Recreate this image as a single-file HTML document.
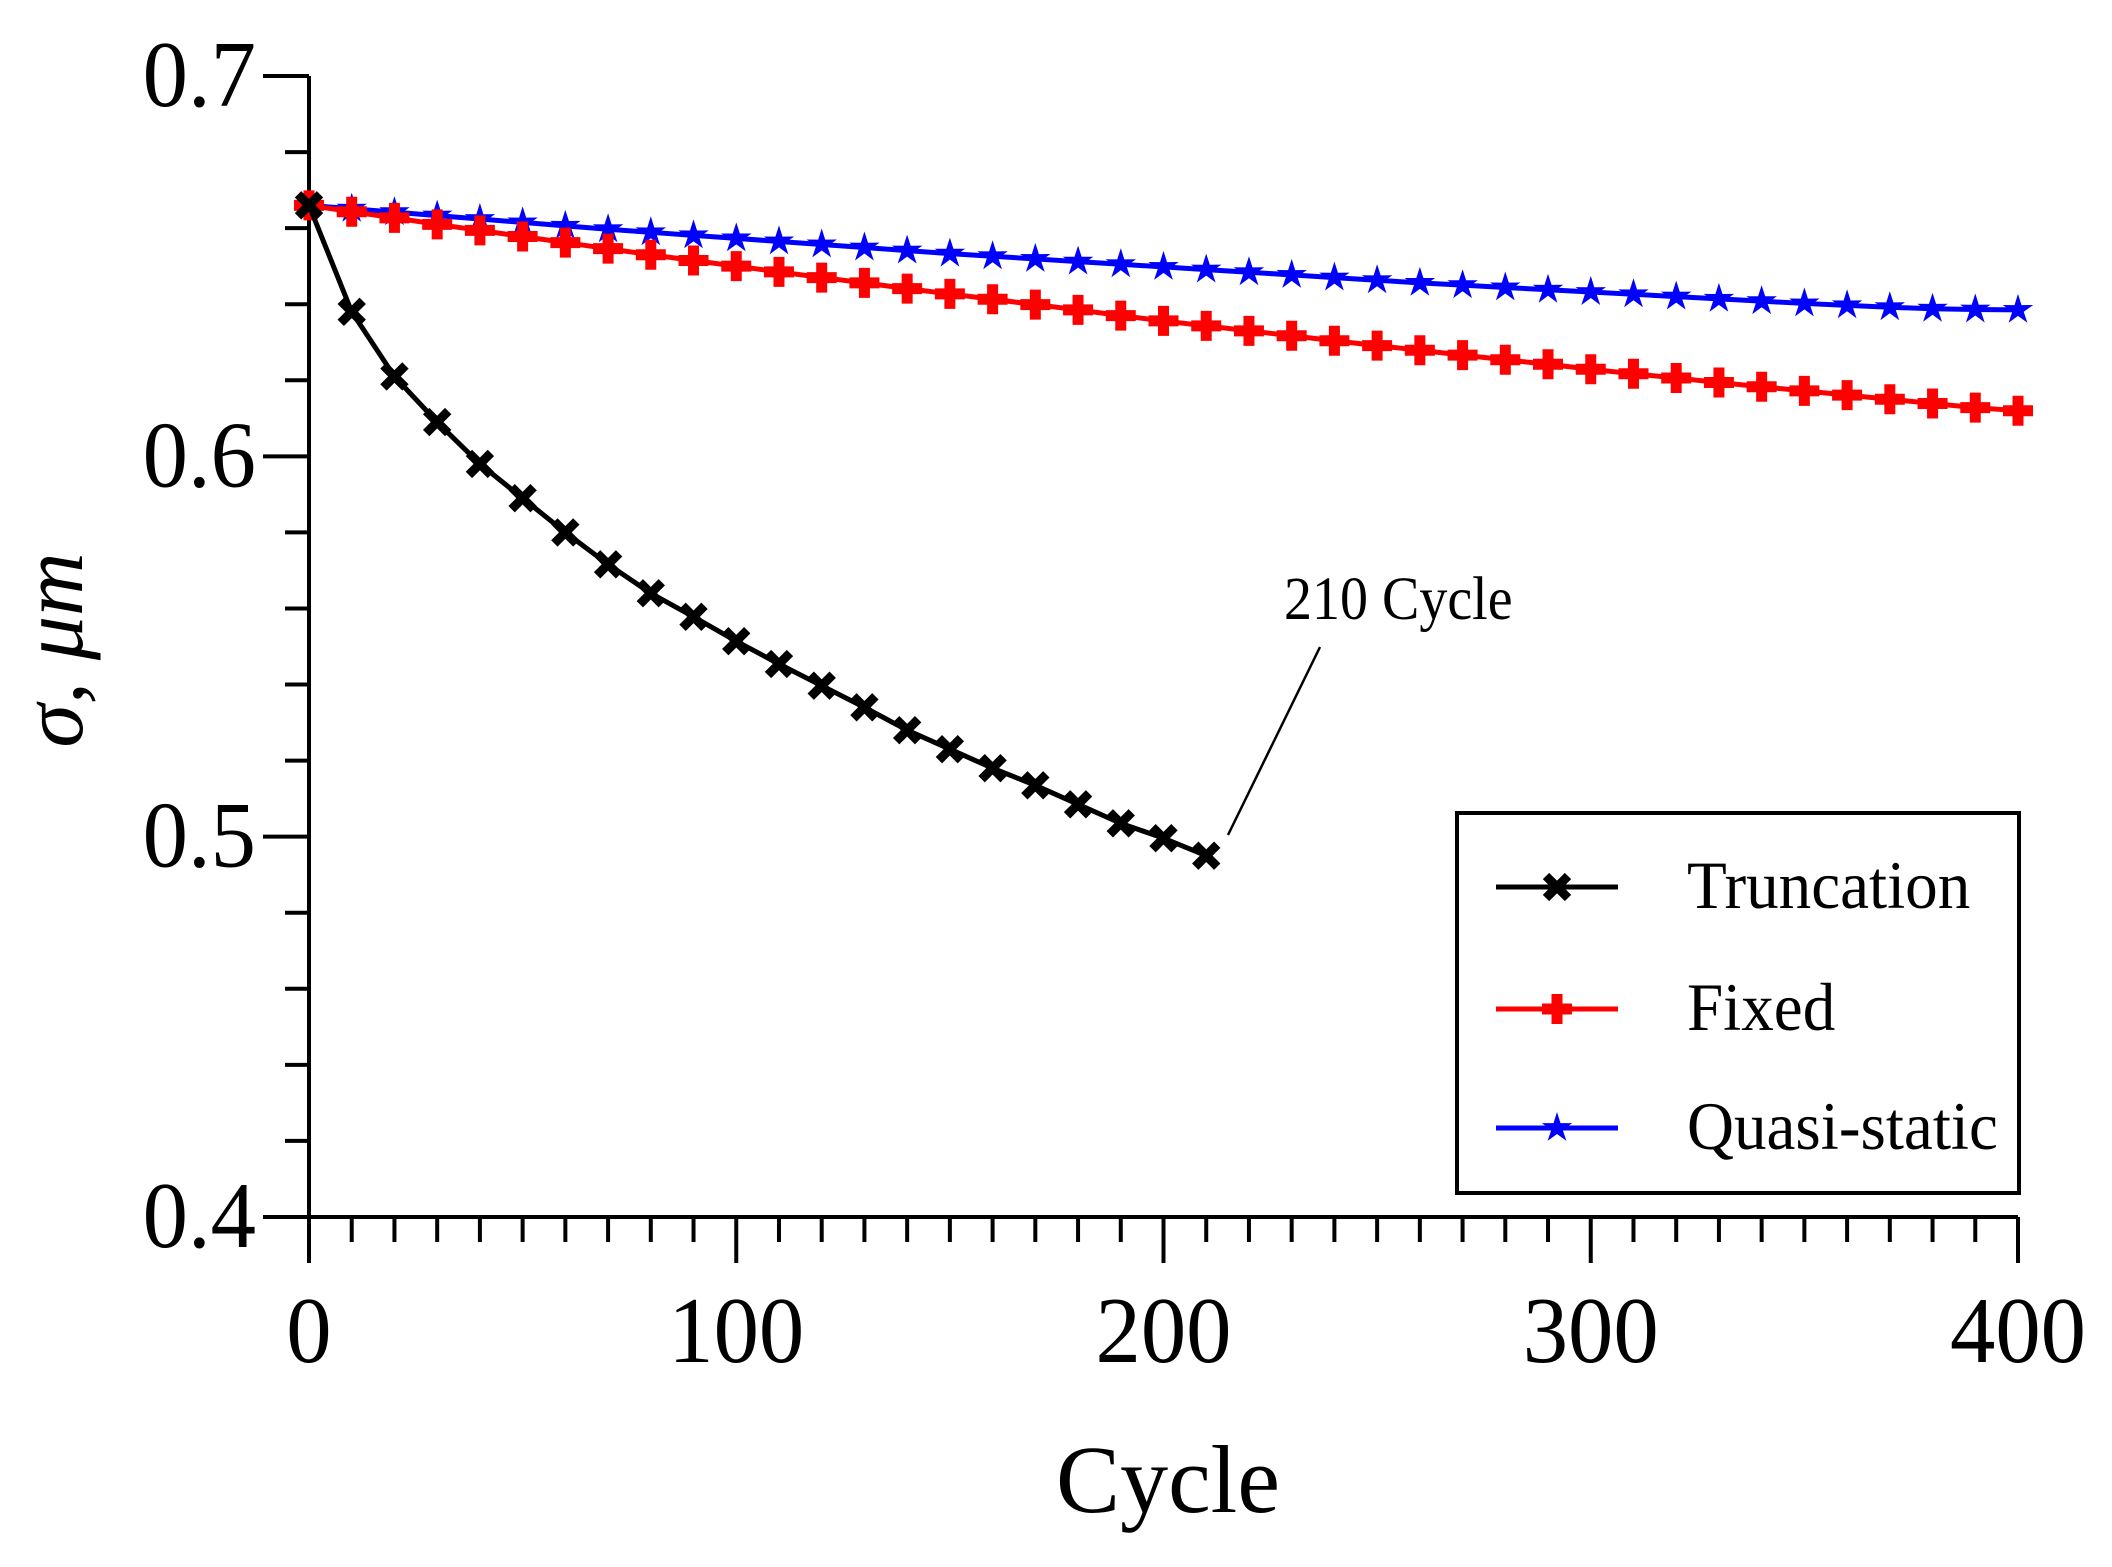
<!DOCTYPE html>
<html><head><meta charset="utf-8"><style>
html,body{margin:0;padding:0;background:#fff;}
svg{display:block;}
text{font-family:"Liberation Serif",serif;fill:#000;}
</style></head><body>
<svg id="chart" width="2112" height="1567" viewBox="0 0 2112 1567" xmlns="http://www.w3.org/2000/svg">
<g id="axes"></g>
<g id="series"></g>
<g>
<line x1="1320" y1="647" x2="1228" y2="835" stroke="#000" stroke-width="2.5"/>
<text x="1284" y="619" font-size="56" transform="translate(1284,619) scale(1,1.1) translate(-1284,-619)">210 Cycle</text>
</g>
<g>
<rect x="1457" y="813" width="562" height="380" fill="#fff" stroke="#000" stroke-width="4"/>
<g id="legend-entries"></g>
</g>
<text x="1168" y="1512" font-size="96" text-anchor="middle">Cycle</text>
<text transform="translate(82,650) rotate(-90)" font-size="88" font-style="italic" text-anchor="middle">σ, μm</text>
</svg>
<script>
const xTicks=[0,100,200,300,400];
const yTicks=[0.4,0.5,0.6,0.7];
const yTickLabels=["0.4","0.5","0.6","0.7"];
const seriesNames=["Truncation","Fixed","Quasi-static"];
const truncCycles=[0,10,20,30,40,50,60,70,80,90,100,110,120,130,140,150,160,170,180,190,200,210];
const truncValues=[0.666,0.638,0.621,0.609,0.598,0.589,0.580,0.5716,0.564,0.5578,0.5514,0.5454,0.5397,0.534,0.528,0.523,0.518,0.5135,0.5085,0.5035,0.4996,0.495];
const fullCycles=[0,10,20,30,40,50,60,70,80,90,100,110,120,130,140,150,160,170,180,190,200,210,220,230,240,250,260,270,280,290,300,310,320,330,340,350,360,370,380,390,400];
const fixedValues=[0.666,0.6643,0.6627,0.6610,0.6594,0.6578,0.6562,0.6546,0.6530,0.6515,0.6500,0.6485,0.6470,0.6456,0.6441,0.6427,0.6413,0.6399,0.6385,0.6370,0.6356,0.6343,0.6330,0.6317,0.6304,0.6291,0.6279,0.6266,0.6254,0.6242,0.6229,0.6217,0.6206,0.6194,0.6183,0.6172,0.6161,0.6150,0.6139,0.6128,0.6120];
const quasiValues=[0.666,0.6651,0.6642,0.6633,0.6624,0.6615,0.6606,0.6597,0.6589,0.6581,0.6573,0.6565,0.6557,0.6549,0.6541,0.6533,0.6526,0.6519,0.6512,0.6505,0.6498,0.6491,0.6484,0.6477,0.6470,0.6463,0.6456,0.6450,0.6444,0.6438,0.6432,0.6426,0.6420,0.6414,0.6408,0.6402,0.6397,0.6392,0.6388,0.6386,0.6385];

const X0=309,X1=2018,Y0=1217,Y1=76;
function xs(v){return X0+(v-0)/(400-0)*(X1-X0);}
function ys(v){return Y0-(v-0.4)/(0.7-0.4)*(Y0-Y1);}
const NS="http://www.w3.org/2000/svg";
function mk(tag,attrs,parent){const e=document.createElementNS(NS,tag);for(const k in attrs)e.setAttribute(k,attrs[k]);parent.appendChild(e);return e;}
const axes=document.getElementById('axes');
let el;
el=mk('line',{x1:X0,y1:ys(0.7),x2:X0,y2:1263,stroke:'#000','stroke-width':4},axes);


el=mk('line',{x1:263,y1:Y0,x2:X1,y2:Y0,stroke:'#000','stroke-width':4},axes);


for(let v=0.4;v<=0.7001;v+=0.02){
  const maj=Math.abs(v*10-Math.round(v*10))<1e-6;
  el=mk('line',{x1:maj?263:285,y1:ys(v),x2:X0,y2:ys(v),stroke:'#000','stroke-width':4},axes);
  
  
}
yTicks.forEach((v,i)=>{
  el=mk('text',{x:256,y:ys(v)+30,'font-size':84,'text-anchor':'end',transform:`translate(256,${ys(v)+30}) scale(1.08,1.12) translate(-256,${-(ys(v)+30)})`},axes);
  el.textContent=yTickLabels[i];
  
  
});
for(let c=10;c<=400;c+=10){
  const maj=c%100===0;
  el=mk('line',{x1:xs(c),y1:Y0,x2:xs(c),y2:maj?1263:1242,stroke:'#000','stroke-width':4},axes);
  
  
}
xTicks.forEach(v=>{
  el=mk('text',{x:xs(v),y:1362,'font-size':84,'text-anchor':'middle',transform:`translate(${xs(v)},1362) scale(1.08,1.12) translate(${-xs(v)},-1362)`},axes);
  el.textContent=String(v);
  
  
});
function marker(kind,x,y,g){
  let m;
  if(kind==='x'){m=mk('path',{d:`M${x-11},${y-11}L${x+11},${y+11}M${x+11},${y-11}L${x-11},${y+11}`,stroke:'#000','stroke-width':9},g);}
  else if(kind==='+'){m=mk('path',{d:`M${x-15},${y}L${x+15},${y}M${x},${y-15}L${x},${y+15}`,stroke:'#f00','stroke-width':11},g);}
  else{const p=[];for(let i=0;i<10;i++){const r=i%2?6:16;const a=-Math.PI/2+i*Math.PI/5;p.push((x+r*Math.cos(a)).toFixed(1)+','+(y+r*Math.sin(a)).toFixed(1));}
    m=mk('polygon',{points:p.join(' '),fill:'#00f'},g);}
  
  
}
const sg=document.getElementById('series');
function drawSeries(name,cyc,vals,color,kind){
  const g=mk('g',{},sg);
  
  
  const pl=mk('polyline',{points:cyc.map((c,i)=>xs(c)+','+ys(vals[i])).join(' '),fill:'none',stroke:color,'stroke-width':5},g);
  
  
  cyc.forEach((c,i)=>marker(kind,xs(c),ys(vals[i]),g));
}
drawSeries('Quasi-static',fullCycles,quasiValues,'#00f','*');
drawSeries('Fixed',fullCycles,fixedValues,'#f00','+');
drawSeries('Truncation',truncCycles,truncValues,'#000','x');
const le=document.getElementById('legend-entries');
const legY=[887,1009,1128],legC=['#000','#f00','#00f'],legK=['x','+','*'];
seriesNames.forEach((n,i)=>{
  const g=mk('g',{},le);
  
  
  mk('line',{x1:1496,y1:legY[i],x2:1618,y2:legY[i],stroke:legC[i],'stroke-width':5},g);
  marker(legK[i],1557,legY[i],g);
  const t=mk('text',{x:1687,y:legY[i]+21,'font-size':62,transform:`translate(1687,${legY[i]+21}) scale(1.05,1.1) translate(-1687,${-(legY[i]+21)})`},g);
  t.textContent=n;
  
  
});
</script>
</body></html>
